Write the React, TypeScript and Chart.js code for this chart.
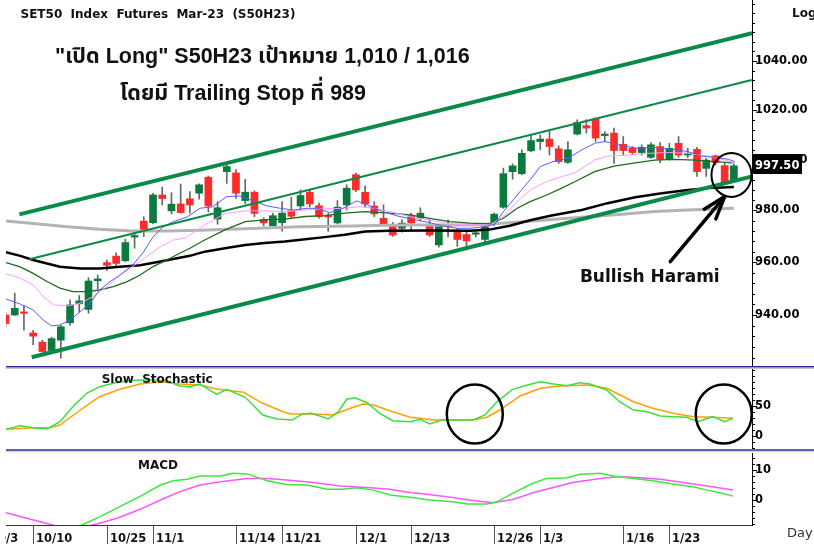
import React, { useEffect, useRef } from 'react';
import { Chart, registerables } from 'chart.js';

Chart.register(...registerables);

const AXIS_FONT = '"DejaVu Sans", Verdana, sans-serif';
const TITLE_FONT = '"Liberation Sans", Arial, "Noto Sans Thai", "Noto Sans", sans-serif';

// ---------- candles (index 0 = 10/5) ----------
const openP = [940.0, 940.0, 941.0, 933.3, 929.9, 926.8, 930.6, 937.1, 944.2, 942.1, 952.9, 959.8, 962.3, 960.5, 969.6, 975.8, 975.2, 986.0, 979.8, 982.5, 984.5, 986.7, 993.0, 976.6, 995.2, 994.7, 983.8, 987.1, 976.4, 974.0, 975.2, 979.8, 981.7, 987.1, 981.8, 977.6, 975.1, 982.1, 994.0, 987.1, 981.7, 976.9, 974.4, 973.0, 978.0, 976.9, 974.0, 966.6, 973.8, 971.9, 970.6, 970.7, 968.7, 974.7, 981.2, 995.2, 994.4, 1003.5, 1007.2, 1008.2, 1004.3, 998.9, 1010.2, 1013.6, 1016.3, 1009.6, 1010.6, 1006.1, 1004.5, 1002.8, 1000.9, 1005.2, 1000.1, 1006.5, 1001.8, 1004.1, 996.5, 1001.5, 997.6, 992.0];
const highP = [941.0, 948.2, 943.5, 934.3, 930.6, 931.7, 936.2, 945.7, 947.3, 954.1, 955.1, 960.8, 963.6, 968.8, 972.2, 977.5, 986.7, 989.1, 986.9, 990.3, 987.3, 990.4, 993.5, 983.4, 998.1, 996.0, 992.2, 987.6, 977.1, 978.9, 983.4, 985.1, 988.0, 988.3, 982.8, 978.9, 983.8, 990.0, 994.6, 989.6, 983.4, 982.1, 975.3, 976.3, 978.9, 981.0, 976.3, 974.4, 976.3, 973.0, 971.8, 972.1, 974.4, 978.9, 996.6, 998.3, 1003.9, 1009.9, 1009.9, 1011.6, 1005.5, 1007.2, 1016.0, 1016.0, 1016.7, 1011.2, 1012.6, 1009.2, 1005.2, 1005.9, 1006.8, 1006.8, 1006.5, 1009.2, 1004.5, 1004.9, 1000.5, 1001.8, 998.5, 998.3];
const lowP = [935.5, 939.8, 934.3, 929.0, 926.2, 926.4, 924.0, 936.2, 941.2, 940.6, 949.7, 956.8, 958.7, 960.2, 965.3, 969.8, 974.7, 982.1, 978.6, 978.9, 978.9, 984.4, 979.4, 974.6, 990.6, 984.7, 982.5, 977.5, 974.0, 973.8, 971.9, 976.9, 980.4, 981.4, 976.9, 971.8, 974.7, 980.1, 987.3, 981.2, 977.5, 974.3, 969.9, 971.5, 972.6, 975.9, 969.9, 965.7, 969.7, 966.0, 965.4, 969.6, 967.3, 974.0, 980.8, 992.2, 994.0, 1003.2, 1003.9, 1001.8, 998.5, 998.5, 1009.9, 1010.6, 1007.2, 1007.2, 998.5, 1001.8, 1002.1, 1001.8, 1000.5, 998.8, 999.8, 1000.9, 1000.8, 993.3, 993.3, 997.8, 990.4, 991.7];
const closeP = [936.8, 942.5, 940.6, 932.1, 926.4, 931.2, 935.6, 943.8, 945.3, 952.8, 953.6, 958.8, 959.5, 967.5, 970.2, 972.5, 986.0, 984.6, 982.4, 979.1, 982.1, 990.0, 981.7, 981.0, 997.2, 986.7, 987.1, 978.8, 975.1, 977.9, 978.9, 977.7, 985.8, 982.5, 977.5, 977.4, 981.2, 988.7, 988.0, 982.5, 978.6, 974.7, 970.4, 975.0, 975.1, 978.9, 970.4, 973.8, 973.6, 968.7, 968.1, 970.9, 973.6, 978.5, 994.4, 997.5, 1002.5, 1007.6, 1008.2, 1005.2, 999.2, 1003.9, 1014.9, 1012.6, 1008.6, 1010.2, 1003.6, 1003.6, 1002.8, 1004.9, 1005.9, 1000.1, 1004.5, 1001.8, 1002.5, 995.2, 999.8, 998.8, 990.6, 997.5];

// ---------- moving averages (bar index, price) ----------
const maFastX = [0.05, 1.6, 3.0, 4.1, 5.0, 5.9, 7.0, 8.1, 9.2, 10.2, 11.3, 12.4, 13.8, 14.9, 16.0, 17.1, 18.2, 19.7, 21.1, 22.5, 24.0, 25.4, 26.8, 28.4, 29.8, 31.2, 32.7, 33.8, 35.2, 36.6, 38.1, 39.5, 40.9, 42.5, 43.9, 46.0, 47.5, 49.0, 50.4, 52.0, 53.1, 54.0, 55.5, 56.9, 58.0, 59.4, 61.0, 62.5, 63.9, 65.0, 66.9, 68.6, 70.4, 72.3, 74.0, 75.5, 76.9, 78.4, 79.1];
const maFastY = [946.0, 944.1, 941.9, 938.1, 935.9, 936.3, 938.1, 941.2, 944.5, 949.4, 952.5, 955.0, 958.9, 963.5, 969.7, 973.6, 975.6, 977.4, 980.8, 981.4, 985.4, 985.6, 983.8, 981.7, 980.8, 980.1, 980.8, 980.8, 979.1, 980.8, 983.7, 981.7, 979.5, 977.8, 976.7, 975.2, 973.9, 973.0, 973.0, 973.7, 974.7, 979.5, 986.0, 992.0, 997.2, 999.2, 1000.5, 1003.9, 1006.5, 1007.2, 1005.5, 1004.5, 1004.9, 1004.1, 1003.2, 1001.4, 1000.9, 1000.1, 999.2];
const maMidX = [0.05, 1.6, 3.0, 4.1, 5.2, 6.7, 8.1, 9.5, 11.0, 12.4, 13.8, 15.3, 16.8, 18.2, 19.5, 21.6, 23.8, 26.0, 28.1, 30.3, 32.5, 34.1, 36.8, 38.4, 40.1, 41.7, 43.9, 46.0, 48.2, 50.4, 52.5, 54.0, 55.5, 56.9, 58.7, 60.1, 61.8, 63.9, 65.3, 67.5, 69.7, 71.9, 74.0, 76.2, 78.0, 79.1];
const maMidY = [955.5, 953.9, 951.3, 946.9, 943.8, 943.4, 944.4, 946.9, 950.7, 955.1, 958.3, 962.1, 965.9, 968.5, 969.2, 974.3, 978.8, 979.8, 979.8, 979.5, 980.1, 980.5, 980.8, 981.4, 980.8, 979.5, 977.5, 976.2, 974.7, 974.3, 974.3, 977.5, 983.4, 988.0, 991.3, 993.0, 994.8, 999.8, 1001.4, 1001.8, 1002.5, 1002.8, 1002.5, 1001.4, 999.8, 998.7];
const maMedX = [0.05, 1.6, 3.0, 4.5, 5.9, 7.3, 8.8, 10.2, 11.7, 13.2, 14.6, 16.0, 17.5, 18.9, 20.0, 21.6, 23.8, 26.0, 28.1, 30.3, 32.5, 34.6, 36.8, 39.0, 41.7, 43.9, 46.0, 48.2, 50.4, 52.5, 54.0, 55.5, 56.9, 58.7, 60.1, 61.8, 63.9, 66.0, 68.3, 70.4, 72.6, 74.8, 76.9, 78.9];
const maMedY = [959.8, 958.2, 955.7, 952.6, 950.1, 948.8, 948.8, 949.4, 950.7, 952.6, 955.1, 958.3, 960.8, 963.4, 965.3, 968.5, 972.4, 975.6, 976.3, 976.6, 977.6, 977.9, 978.9, 979.5, 978.9, 978.2, 976.9, 975.6, 975.0, 974.7, 976.9, 980.8, 983.4, 986.0, 988.3, 991.3, 995.2, 997.4, 998.7, 999.8, 1000.1, 999.8, 999.2, 998.7];
const maLongX = [0.05, 1.6, 3.0, 4.5, 5.9, 8.1, 10.2, 12.4, 14.6, 16.8, 20.0, 21.6, 23.8, 26.0, 28.1, 30.3, 32.5, 34.6, 36.8, 39.0, 41.7, 46.0, 50.4, 52.5, 54.7, 56.9, 59.1, 62.5, 65.3, 68.3, 71.2, 74.0, 76.2, 79.0];
const maLongY = [963.8, 962.4, 960.8, 959.5, 958.2, 957.6, 957.6, 958.2, 958.8, 960.2, 962.4, 964.0, 965.3, 966.6, 967.3, 967.9, 968.8, 969.6, 970.5, 971.8, 972.1, 972.2, 972.1, 972.5, 974.0, 976.1, 977.9, 980.1, 982.8, 985.1, 986.7, 988.0, 988.7, 989.1];
const maSlowX = [0.05, 3.0, 6.7, 10.2, 13.8, 17.5, 21.1, 26.7, 32.0, 37.6, 43.1, 50.4, 54.7, 59.6, 63.2, 66.9, 70.4, 74.0, 79.0];
const maSlowY = [975.8, 974.9, 973.6, 972.6, 972.0, 972.0, 972.3, 972.9, 973.6, 973.9, 974.3, 974.3, 975.2, 976.5, 977.5, 978.5, 979.5, 980.1, 980.8];

// ---------- channel lines (bar index, price) ----------
const chanUpperX = [1.5, 80.97];
const chanUpperY = [978.4, 1051.6];
const chanMidX = [2.58, 80.93];
const chanMidY = [961.1, 1032.2];
const chanLowerX = [2.84, 80.97];
const chanLowerY = [924.3, 993.3];

// ---------- slow stochastic ----------
const stochKX = [0.05, 1.6, 3.0, 4.5, 5.9, 7.3, 8.8, 10.2, 11.7, 13.2, 14.6, 16.0, 17.5, 18.9, 20.0, 21.1, 22.9, 24.0, 26.0, 27.9, 29.4, 31.1, 32.2, 33.2, 35.0, 36.1, 37.0, 37.9, 39.2, 40.6, 42.0, 43.9, 45.0, 46.0, 47.4, 49.3, 50.7, 52.0, 53.3, 55.0, 56.6, 58.0, 59.4, 60.9, 62.3, 63.4, 65.2, 66.6, 68.1, 69.6, 71.0, 72.4, 73.9, 75.1, 76.7, 78.0, 78.9];
const stochKY = [10.7, 16.7, 13.3, 11.2, 23.3, 48.3, 70.7, 81.7, 87.3, 91.7, 92.8, 92.8, 91.7, 82.8, 81.7, 86.2, 69.0, 77.3, 64.0, 34.5, 27.8, 26.2, 36.2, 37.3, 27.8, 40.0, 60.7, 63.3, 55.0, 37.3, 25.0, 23.3, 27.3, 19.5, 26.2, 26.2, 26.2, 34.5, 56.7, 77.3, 84.5, 90.0, 86.2, 83.3, 88.3, 86.2, 76.2, 56.7, 42.8, 40.0, 32.8, 31.7, 30.7, 23.3, 31.7, 23.3, 29.0];
const stochDX = [0.05, 3.0, 4.8, 5.9, 8.1, 10.2, 12.4, 14.6, 16.8, 18.9, 21.1, 22.9, 25.8, 27.9, 30.1, 30.9, 33.4, 35.5, 37.4, 38.8, 39.9, 42.0, 43.9, 45.0, 46.4, 48.5, 50.7, 52.2, 53.6, 55.8, 58.0, 60.1, 63.1, 65.2, 68.1, 70.2, 72.4, 74.6, 76.7, 78.9];
const stochDY = [10.7, 13.3, 13.3, 17.8, 42.8, 65.0, 77.3, 86.2, 90.0, 86.2, 84.5, 77.8, 72.3, 54.0, 40.0, 36.2, 36.2, 34.5, 45.7, 52.8, 51.2, 40.0, 30.7, 29.0, 26.2, 26.2, 26.2, 30.7, 42.8, 66.2, 79.0, 82.8, 84.5, 79.0, 56.7, 45.7, 37.3, 31.7, 30.7, 29.0];

// ---------- MACD ----------
const macdX = [7.0, 8.3, 10.2, 12.4, 14.9, 16.8, 18.2, 19.7, 21.1, 23.3, 24.7, 26.2, 28.4, 30.5, 32.7, 34.9, 36.6, 38.1, 39.9, 41.7, 43.9, 46.0, 48.5, 50.1, 52.2, 53.3, 55.0, 57.2, 58.7, 60.9, 62.3, 64.5, 65.9, 68.1, 70.2, 72.4, 74.6, 76.1, 77.5, 78.9];
const macdY = [-10, -8.3, -5.6, -2.2, 1.7, 5.0, 6.4, 6.9, 8.0, 8.0, 8.9, 8.7, 6.4, 5.2, 5.0, 3.6, 3.6, 4.1, 3.3, 1.7, 0.9, 0.0, -0.6, -1.3, -1.3, -0.6, 2.2, 5.6, 7.2, 7.4, 8.6, 8.9, 8.0, 7.2, 6.4, 5.3, 4.4, 3.3, 2.4, 1.3];
const signalX = [0.05, 2.3, 4.8, 7.0, 9.9, 12.1, 14.6, 16.8, 18.9, 21.1, 23.3, 26.2, 28.4, 30.5, 33.4, 36.3, 39.2, 41.7, 43.9, 45.0, 47.9, 50.7, 52.9, 55.0, 57.2, 59.4, 61.5, 64.5, 66.6, 68.8, 71.0, 73.5, 76.1, 78.9];
const signalY = [-4.2, -6.1, -8.1, -10, -8.0, -6.1, -3.1, 0.0, 2.8, 5.0, 6.1, 7.2, 7.2, 6.7, 5.8, 4.7, 4.2, 3.6, 2.4, 2.2, 1.1, -0.2, -0.9, 0.2, 2.4, 4.2, 5.8, 7.2, 7.8, 7.4, 6.9, 5.8, 4.7, 3.3];

// ---------- axes ----------
const dateLabels = ['10/3', '10/10', '10/25', '11/1', '11/14', '11/21', '12/1', '12/13', '12/26', '1/3', '1/16', '1/23'];
const dateIdx = [-2, 3, 11, 16, 25, 30, 38, 44, 53, 58, 67, 72];
const priceTicks = [940, 960, 980, 1000, 1020, 1040];
const stochTicks = [0, 50];
const macdTicks = [0, 10];
const lastPrice = 997.5;

// annotation anchors (bar index, value)
const haramiCircle = [78.74, 993.9];
const arrowTail = [72.1, 960.2];
const arrowTip = [78.0, 985.4];
const haramiText = [62.3, 952.5];
const stochCircles = [[50.9, 36.2], [77.9, 36.2]];

const X_MIN = 0.054;
const X_MAX = 80.965;
const AXIS_W = 62;

const pts = (xs: number[], ys: number[]) => xs.map((x, i) => ({ x, y: ys[i] }));

const xScale = () => ({ type: 'linear', min: X_MIN, max: X_MAX, display: false, offset: false });

function yScale(type: string, min: number, max: number, ticks: number[], fmt: (v: number) => string) {
  return {
    type,
    position: 'right',
    min,
    max,
    grid: { display: false, drawTicks: false },
    border: { display: true, color: '#000', width: 1 },
    afterBuildTicks: (s: any) => { s.ticks = ticks.map((v) => ({ value: v })); },
    afterFit: (s: any) => { s.width = AXIS_W; s.paddingTop = 0; s.paddingBottom = 0; },
    ticks: {
      padding: 3,
      color: '#000',
      autoSkip: false,
      maxRotation: 0,
      font: { family: AXIS_FONT, size: 11.5, weight: 'bold' },
      callback: (v: any) => fmt(Number(v)),
    },
  };
}

const line = (data: any[], color: string, width: number, order: number) => ({
  type: 'line', data, borderColor: color, borderWidth: width, pointRadius: 0, fill: false, tension: 0, order,
});

function minorTicks(ctx: any, chart: any, from: number, to: number, step: number, majors: number[]) {
  const y = chart.scales.y;
  const x0 = chart.chartArea.right;
  ctx.strokeStyle = '#000';
  ctx.lineWidth = 1;
  ctx.beginPath();
  for (let v = from; v <= to + 1e-9; v += step) {
    const py = Math.round(y.getPixelForValue(v)) + 0.5;
    if (py < chart.chartArea.top || py > chart.chartArea.bottom) continue;
    const len = majors.some((m) => Math.abs(m - v) < 1e-6) ? 5 : 3;
    ctx.moveTo(x0, py);
    ctx.lineTo(x0 + len, py);
  }
  ctx.stroke();
}

const baseOpts = (padding: any) => ({
  responsive: false,
  maintainAspectRatio: false,
  animation: false,
  devicePixelRatio: 1,
  events: [],
  layout: { autoPadding: false, padding },
  plugins: { legend: { display: false }, tooltip: { enabled: false } },
});

export default function App() {
  const mainRef = useRef<HTMLCanvasElement>(null);
  const stochRef = useRef<HTMLCanvasElement>(null);
  const macdRef = useRef<HTMLCanvasElement>(null);

  useEffect(() => {
    document.body.style.margin = '0';
    const UP = '#0b7a3e';
    const DOWN = '#ff2b2b';
    const idx = openP.map((_, i) => i);
    const bodies = idx.map((i) => ({ x: i, y: [Math.min(openP[i], closeP[i]), Math.max(openP[i], closeP[i])] }));
    const wicks = idx.map((i) => ({ x: i, y: [lowP[i], highP[i]] }));
    const bodyColors = idx.map((i) => (closeP[i] > openP[i] ? UP : closeP[i] < openP[i] ? DOWN : '#888'));

    const mainDeco = {
      id: 'mainDeco',
      afterDraw(chart: any) {
        const { ctx, chartArea } = chart;
        const x = chart.scales.x;
        const y = chart.scales.y;
        ctx.save();
        minorTicks(ctx, chart, 924, 1064, 4, priceTicks);

        // titles
        ctx.fillStyle = '#111';
        ctx.textAlign = 'left';
        ctx.textBaseline = 'alphabetic';
        ctx.font = `bold 12px ${AXIS_FONT}`;
        ctx.fillText('SET50  Index  Futures  Mar-23  (S50H23)', 20.5, 17.5);
        ctx.fillText('Log', 792, 17);
        ctx.font = `bold 21.5px ${TITLE_FONT}`;
        ctx.fillText('"เปิด Long" S50H23 เป้าหมาย 1,010 / 1,016', 55, 63);
        ctx.fillText('โดยมี Trailing Stop ที่ 989', 120, 99.5);

        // harami circle
        ctx.strokeStyle = '#000';
        ctx.lineWidth = 2;
        ctx.beginPath();
        ctx.ellipse(x.getPixelForValue(haramiCircle[0]), y.getPixelForValue(haramiCircle[1]), 20, 22, 0, 0, Math.PI * 2);
        ctx.stroke();

        // arrow
        const sx = x.getPixelForValue(arrowTail[0]);
        const sy = y.getPixelForValue(arrowTail[1]);
        const tx = x.getPixelForValue(arrowTip[0]);
        const ty = y.getPixelForValue(arrowTip[1]);
        const ang = Math.atan2(ty - sy, tx - sx);
        ctx.lineWidth = 3.5;
        ctx.lineCap = 'round';
        ctx.lineJoin = 'round';
        ctx.beginPath();
        ctx.moveTo(sx, sy);
        ctx.lineTo(tx, ty);
        ctx.stroke();
        const hl = 24;
        const ha = 0.32;
        ctx.beginPath();
        ctx.moveTo(tx - hl * Math.cos(ang - ha), ty - hl * Math.sin(ang - ha));
        ctx.lineTo(tx, ty);
        ctx.lineTo(tx - hl * Math.cos(ang + ha), ty - hl * Math.sin(ang + ha));
        ctx.stroke();

        ctx.fillStyle = '#111';
        ctx.font = `bold 17px ${AXIS_FONT}`;
        ctx.fillText('Bullish Harami', x.getPixelForValue(haramiText[0]), y.getPixelForValue(haramiText[1]));

        // last price box
        const py = y.getPixelForValue(lastPrice);
        ctx.fillStyle = '#000';
        ctx.fillRect(chartArea.right + 1, Math.round(py) - 12, 49, 20);
        ctx.fillStyle = '#fff';
        ctx.font = `bold 11.5px ${AXIS_FONT}`;
        ctx.textBaseline = 'middle';
        ctx.fillText(lastPrice.toFixed(2), chartArea.right + 3, py + 0.5);
        ctx.restore();
      },
    };

    const mainChart = new Chart(mainRef.current as HTMLCanvasElement, {
      type: 'line',
      data: {
        datasets: [
          { type: 'bar', data: bodies, backgroundColor: bodyColors, borderWidth: 0, barThickness: 7, grouped: false, minBarLength: 1.5, order: 30 },
          { type: 'bar', data: wicks, backgroundColor: '#666', borderWidth: 0, barThickness: 1, grouped: false, order: 31 },
          line(pts(maSlowX, maSlowY), '#b4b4b4', 3, 20),
          line(pts(maLongX, maLongY), '#000000', 2.5, 19),
          line(pts(maMedX, maMedY), '#1e6a1e', 1.3, 15),
          line(pts(maMidX, maMidY), '#ff9cff', 1, 14),
          line(pts(maFastX, maFastY), '#5a5aff', 1, 13),
          line(pts(chanUpperX, chanUpperY), '#0b8a47', 4, 5),
          line(pts(chanMidX, chanMidY), '#0b8a47', 2, 5),
          line(pts(chanLowerX, chanLowerY), '#0b8a47', 4, 5),
        ] as any,
      },
      options: {
        ...baseOpts({ left: 6, right: 0, top: 0, bottom: 0 }),
        scales: {
          x: xScale(),
          y: yScale('logarithmic', 921.1, 1065.6, priceTicks, (v) => v.toFixed(2)),
        },
      } as any,
      plugins: [mainDeco],
    });

    const stochDeco = {
      id: 'stochDeco',
      afterDraw(chart: any) {
        const { ctx } = chart;
        const x = chart.scales.x;
        const y = chart.scales.y;
        ctx.save();
        ctx.strokeStyle = '#2a2a9c';
        ctx.lineWidth = 1.5;
        ctx.beginPath(); ctx.moveTo(6, 0.75); ctx.lineTo(814, 0.75); ctx.stroke();
        ctx.strokeStyle = '#c4c4c4';
        ctx.lineWidth = 1;
        ctx.beginPath(); ctx.moveTo(6, 2.5); ctx.lineTo(814, 2.5); ctx.stroke();
        minorTicks(ctx, chart, -20, 110, 10, stochTicks);
        ctx.fillStyle = '#111';
        ctx.font = `bold 12px ${AXIS_FONT}`;
        ctx.textBaseline = 'alphabetic';
        ctx.fillText('Slow  Stochastic', 101.7, 17);
        ctx.strokeStyle = '#000';
        ctx.lineWidth = 2.5;
        stochCircles.forEach(([ci, cv]) => {
          ctx.beginPath();
          ctx.ellipse(x.getPixelForValue(ci), y.getPixelForValue(cv), 28, 29.5, 0, 0, Math.PI * 2);
          ctx.stroke();
        });
        ctx.restore();
      },
    };

    const stochChart = new Chart(stochRef.current as HTMLCanvasElement, {
      type: 'line',
      data: {
        datasets: [
          line(pts(stochDX, stochDY), '#ffa200', 1.5, 2),
          line(pts(stochKX, stochKY), '#3be03b', 1.5, 1),
        ] as any,
      },
      options: {
        ...baseOpts({ left: 6, right: 0, top: 3, bottom: 0 }),
        scales: {
          x: xScale(),
          y: yScale('linear', -22.2, 111.2, stochTicks, (v) => String(v)),
        },
      } as any,
      plugins: [stochDeco],
    });

    const macdDeco = {
      id: 'macdDeco',
      afterDraw(chart: any) {
        const { ctx, chartArea } = chart;
        const x = chart.scales.x;
        ctx.save();
        ctx.strokeStyle = '#2a2a9c';
        ctx.lineWidth = 1.5;
        ctx.beginPath(); ctx.moveTo(6, 1); ctx.lineTo(814, 1); ctx.stroke();
        ctx.strokeStyle = '#c4c4c4';
        ctx.lineWidth = 1;
        ctx.beginPath(); ctx.moveTo(6, 2.8); ctx.lineTo(814, 2.8); ctx.stroke();
        minorTicks(ctx, chart, -8, 16, 2, macdTicks);
        ctx.fillStyle = '#111';
        ctx.font = `bold 12px ${AXIS_FONT}`;
        ctx.textBaseline = 'alphabetic';
        ctx.fillText('MACD', 138, 20);

        // x axis
        const by = Math.round(chartArea.bottom) + 0.5;
        ctx.strokeStyle = '#333';
        ctx.lineWidth = 1;
        ctx.beginPath(); ctx.moveTo(6, by); ctx.lineTo(chartArea.right, by); ctx.stroke();
        ctx.save();
        ctx.beginPath();
        ctx.rect(5, by, chartArea.right - 5, 40);
        ctx.clip();
        ctx.font = `bold 11.5px ${AXIS_FONT}`;
        ctx.strokeStyle = '#555';
        dateIdx.forEach((di, k) => {
          const px = Math.round(x.getPixelForValue(di)) + 0.5;
          ctx.beginPath(); ctx.moveTo(px, by); ctx.lineTo(px, by + 20); ctx.stroke();
          ctx.fillText(dateLabels[k], px + 2.5, by + 16);
        });
        ctx.restore();
        ctx.fillStyle = '#333';
        ctx.font = `13px ${AXIS_FONT}`;
        ctx.fillText('Day', 787, 88);
        ctx.restore();
      },
    };

    const macdChart = new Chart(macdRef.current as HTMLCanvasElement, {
      type: 'line',
      data: {
        datasets: [
          line(pts(signalX, signalY), '#ff55ff', 1.5, 2),
          line(pts(macdX, macdY), '#3be83b', 1.5, 1),
        ] as any,
      },
      options: {
        ...baseOpts({ left: 6, right: 0, top: 4, bottom: 19 }),
        scales: {
          x: xScale(),
          y: yScale('linear', -8.33, 15.67, macdTicks, (v) => String(v)),
        },
      } as any,
      plugins: [macdDeco],
    });

    return () => {
      mainChart.destroy();
      stochChart.destroy();
      macdChart.destroy();
    };
  }, []);

  return (
    <div style={{ position: 'relative', width: 814, height: 544, background: '#fff', overflow: 'hidden' }}>
      <canvas ref={mainRef} width={814} height={366} style={{ position: 'absolute', left: 0, top: 0 }} />
      <canvas ref={stochRef} width={814} height={83} style={{ position: 'absolute', left: 0, top: 366 }} />
      <canvas ref={macdRef} width={814} height={95} style={{ position: 'absolute', left: 0, top: 449 }} />
    </div>
  );
}
